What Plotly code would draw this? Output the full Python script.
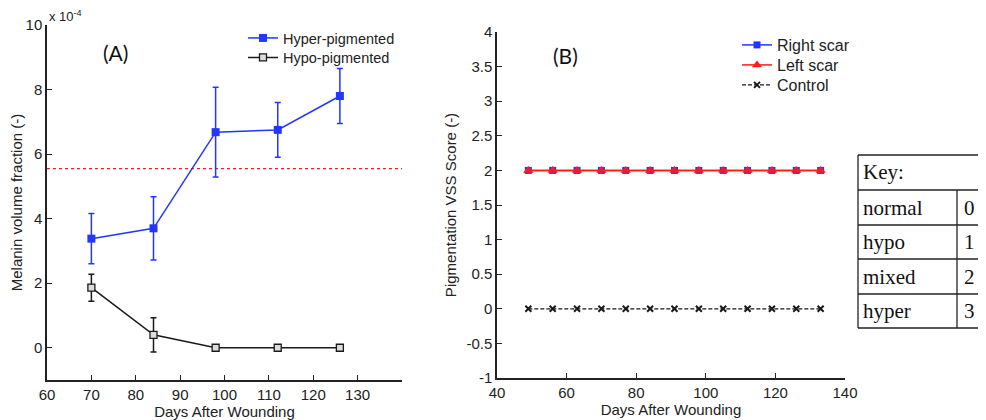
import plotly.graph_objects as go

# ---------------- data ----------------
# Panel A (values in units of 1e-4)
days_a = [70, 84, 98, 112, 126]
hyper = [3.38, 3.70, 6.68, 6.75, 7.80]
hyper_err = [0.78, 0.98, 1.39, 0.85, 0.85]
hypo = [1.86, 0.40, 0.0, 0.0, 0.0]
hypo_err = [0.42, 0.53, 0.0, 0.0, 0.0]
threshold = 5.55

# Panel B
days_b = [49, 56, 63, 70, 77, 84, 91, 98, 105, 112, 119, 126, 133]
right_scar = [2] * 13
left_scar = [2] * 13
control = [0] * 13

# ticks
xa_ticks = [60, 70, 80, 90, 100, 110, 120, 130, 140]
xa_text = ["60", "70", "80", "90", "100", "110", "120", "130", " "]
ya_ticks = [0, 2, 4, 6, 8, 10]
ya_text = ["0", "2", "4", "6", "8", "10"]
xb_ticks = [40, 60, 80, 100, 120, 140]
yb_ticks = [-1, -0.5, 0, 0.5, 1, 1.5, 2, 2.5, 3, 3.5, 4]
yb_text = ["-1", "-0.5", "0", "0.5", "1", "1.5", "2", "2.5", "3", "3.5", "4"]

key_labels = ["normal", "hypo", "mixed", "hyper"]
key_values = ["0", "1", "2", "3"]

BLUE = "#2236ff"
RED = "#ff1a1a"
BLACK = "#1a1a1a"
FONT = "Liberation Sans"

W, H = 986, 420
OFF = 8  # page body margin


def px(x):
    return (x - OFF) / W


def py(y):
    return 1 - (y - OFF) / H


fig = go.Figure()

# Panel A traces
fig.add_trace(go.Scatter(
    x=[60, 140], y=[threshold, threshold], mode="lines",
    line=dict(color=RED, width=1.3, dash="dot"), showlegend=False,
    xaxis="x", yaxis="y", hoverinfo="skip"))
fig.add_trace(go.Scatter(
    x=days_a, y=hyper, mode="lines+markers", name="Hyper-pigmented",
    line=dict(color=BLUE, width=1.5),
    marker=dict(symbol="square", size=8, color=BLUE),
    error_y=dict(type="data", array=hyper_err, color=BLUE, thickness=1.5, width=3),
    xaxis="x", yaxis="y", legend="legend"))
fig.add_trace(go.Scatter(
    x=days_a, y=hypo, mode="lines+markers", name="Hypo-pigmented",
    line=dict(color=BLACK, width=1.5),
    marker=dict(symbol="square", size=7, color="#dddddd", line=dict(color=BLACK, width=1.3)),
    error_y=dict(type="data", array=hypo_err, color=BLACK, thickness=1.5, width=3),
    xaxis="x", yaxis="y", legend="legend2"))

# Panel B traces
fig.add_trace(go.Scatter(
    x=days_b, y=right_scar, mode="lines+markers", name="Right scar",
    line=dict(color=BLUE, width=1.5),
    marker=dict(symbol="square", size=7, color=BLUE),
    xaxis="x2", yaxis="y2", legend="legend3"))
fig.add_trace(go.Scatter(
    x=days_b, y=left_scar, mode="lines+markers", name="Left scar",
    line=dict(color=RED, width=1.5),
    marker=dict(symbol="triangle-up", size=9, color=RED),
    xaxis="x2", yaxis="y2", legend="legend4"))
fig.add_trace(go.Scatter(
    x=days_b, y=control, mode="lines+markers", name="Control",
    line=dict(color=BLACK, width=1.3, dash="4px,2px"),
    marker=dict(symbol="x-thin", size=6, color=BLACK, line=dict(color=BLACK, width=2)),
    xaxis="x2", yaxis="y2", legend="legend5"))

axis_common = dict(
    showgrid=False, zeroline=False, showline=True, linecolor="#222222", linewidth=1.5,
    ticks="inside", ticklen=5, tickwidth=1.2, tickcolor="#222222",
    tickfont=dict(family=FONT, size=15, color="#222222"), automargin=False,
    mirror=False,
)
title_font = dict(family=FONT, size=15, color="#222222")


def leg(xw, yw, size):
    return dict(x=px(xw), y=py(yw), xanchor="left", yanchor="top",
                bgcolor="rgba(0,0,0,0)", font=dict(family=FONT, size=size),
                itemwidth=30, tracegroupgap=0)


fig.update_layout(
    width=W, height=H,
    margin=dict(l=0, r=0, t=0, b=0),
    paper_bgcolor="white", plot_bgcolor="white",
    font=dict(family=FONT, size=14, color="#222222"),
    xaxis=dict(axis_common, domain=[px(47), px(402)], range=[60, 140],
               tickvals=xa_ticks, ticktext=xa_text, anchor="y",
               title=dict(text="Days After Wounding", standoff=1, font=title_font)),
    yaxis=dict(axis_common, domain=[py(380), py(25)], range=[-1, 10],
               tickvals=ya_ticks, ticktext=ya_text, anchor="x",
               title=dict(text="Melanin volume fraction (-)", standoff=2, font=title_font)),
    xaxis2=dict(axis_common, domain=[px(497), px(845)], range=[40, 140],
                tickvals=xb_ticks, anchor="y2",
                title=dict(text="Days After Wounding", standoff=2, font=title_font)),
    yaxis2=dict(axis_common, domain=[py(378), py(32)], range=[-1, 4],
                tickvals=yb_ticks, ticktext=yb_text, anchor="x2",
                title=dict(text="Pigmentation VSS Score (-)", standoff=6, font=title_font)),
    legend=leg(243, 22, 14.5),
    legend2=leg(243, 41.5, 14.5),
    legend3=leg(737, 28, 16),
    legend4=leg(737, 48, 16),
    legend5=leg(737, 68, 16),
)

annotations = [
    dict(text="(A)", x=px(115), y=py(53), xref="paper", yref="paper",
         xanchor="center", yanchor="middle",
         showarrow=False, font=dict(family="Lato", size=21, color="#111111")),
    dict(text="(B)", x=px(565), y=py(55), xref="paper", yref="paper",
         xanchor="center", yanchor="middle",
         showarrow=False, font=dict(family="Lato", size=21, color="#111111")),
    dict(text="x 10<sup>-4</sup>", x=px(47), y=py(26), xref="paper", yref="paper",
         xanchor="left", yanchor="bottom", showarrow=False,
         font=dict(family=FONT, size=13, color="#222222")),
]

# Key table
tl, tr = 858, 1000
row_edges = [155, 190, 225, 259, 294, 328]
col_div = 957
shapes = []
line_style = dict(color="#222222", width=1.3)
for yv in row_edges:
    shapes.append(dict(type="line", xref="paper", yref="paper",
                       x0=px(tl), x1=px(tr), y0=py(yv), y1=py(yv), line=line_style))
shapes.append(dict(type="line", xref="paper", yref="paper",
                   x0=px(tl), x1=px(tl), y0=py(row_edges[0]), y1=py(row_edges[-1]), line=line_style))
shapes.append(dict(type="line", xref="paper", yref="paper",
                   x0=px(col_div), x1=px(col_div), y0=py(row_edges[1]), y1=py(row_edges[-1]), line=line_style))

table_font = dict(family="Liberation Serif", size=21, color="#111111")
annotations.append(dict(text="Key:", x=px(861), y=py((row_edges[0] + row_edges[1]) / 2),
                        xref="paper", yref="paper", xanchor="left", yanchor="middle",
                        showarrow=False, font=table_font))
for i, (lab, val) in enumerate(zip(key_labels, key_values)):
    yc = (row_edges[i + 1] + row_edges[i + 2]) / 2
    annotations.append(dict(text=lab, x=px(861), y=py(yc), xref="paper", yref="paper",
                            xanchor="left", yanchor="middle", showarrow=False, font=table_font))
    annotations.append(dict(text=val, x=px(962), y=py(yc), xref="paper", yref="paper",
                            xanchor="left", yanchor="middle", showarrow=False, font=table_font))

fig.update_layout(annotations=annotations, shapes=shapes)

fig.write_html("out.html")
